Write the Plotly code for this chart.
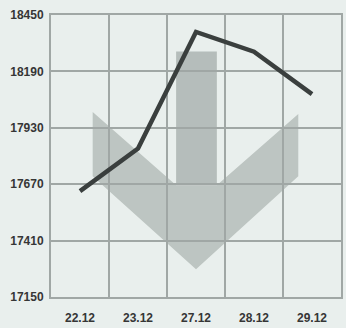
import plotly.graph_objects as go

# Daily closing values
dates = ["22.12", "23.12", "27.12", "28.12", "29.12"]
closes = [17638, 17834, 18372, 18281, 18085]

# Value axis ticks
y_ticks = [17150, 17410, 17670, 17930, 18190, 18450]

bg = "#e9efed"
grid = "#a0a7a5"
ink = "#3a3f3e"

# Plot area in pixels (width 346, height 328)
L, R, T, B = 51, 343, 15, 300


def px(x, y):
    """Pixel position to paper coordinates."""
    return (x - L) / (R - L), (B - y) / (B - T)


def path(points):
    pts = [px(x, y) for x, y in points]
    return "M " + " L ".join(f"{a:.4f},{b:.4f}" for a, b in pts) + " Z"


# Decorative downward arrow behind the line: shaft and chevron head
shaft = [(177, 52), (218, 52), (218, 187), (177, 187)]
head = [(177, 187), (218, 187), (300, 115), (300, 178), (197, 272),
        (93, 178), (93, 113)]

fig = go.Figure()
fig.add_trace(go.Scatter(
    x=dates, y=closes, mode="lines",
    line=dict(color=ink, width=4.5),
    hoverinfo="skip", showlegend=False,
))

fig.add_shape(type="path", xref="paper", yref="paper", path=path(head),
              fillcolor="#b5bdba", line=dict(width=0), layer="between",
              opacity=0.85)
fig.add_shape(type="path", xref="paper", yref="paper", path=path(shaft),
              fillcolor="#abb4b1", line=dict(width=0), layer="between",
              opacity=0.85)

fig.update_layout(
    width=346, height=328,
    margin=dict(l=L, r=346 - R, t=T, b=328 - B),
    paper_bgcolor=bg, plot_bgcolor=bg,
    font=dict(family="Liberation Sans, Arial, sans-serif", size=12, color="#363636"),
    xaxis=dict(
        type="category", tickson="boundaries", range=[-0.5, 4.5],
        showgrid=True, gridcolor=grid, gridwidth=2,
        showline=True, linecolor=grid, linewidth=2, mirror=True,
        ticks="", ticklabelstandoff=9,
        tickfont=dict(size=12, weight="bold"),
        fixedrange=True,
    ),
    yaxis=dict(
        range=[17150, 18450], tickvals=y_ticks,
        ticktext=[str(v) for v in y_ticks],
        showgrid=True, gridcolor=grid, gridwidth=2,
        showline=True, linecolor=grid, linewidth=2, mirror=True,
        ticks="", ticklabelstandoff=3, zeroline=False,
        tickfont=dict(size=12, weight="bold"),
        fixedrange=True,
    ),
)

fig.write_html("out.html", config={"displayModeBar": False})
